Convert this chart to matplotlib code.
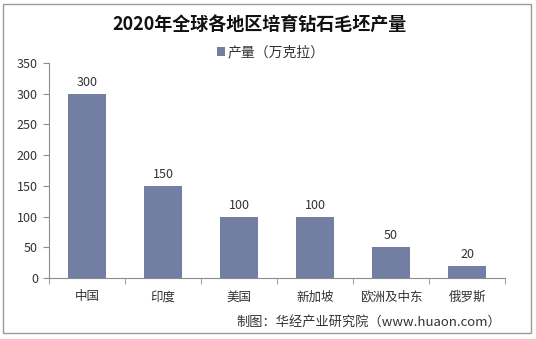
import matplotlib.pyplot as plt
from matplotlib.patches import Rectangle
import numpy as np

plt.rcParams['font.family'] = ['Noto Sans CJK SC', 'DejaVu Sans']

# 各地区培育钻石毛坯产量（万克拉）
regions = ['中国', '印度', '美国', '新加坡', '欧洲及中东', '俄罗斯']
output = [300, 150, 100, 100, 50, 20]
y_ticks = [0, 50, 100, 150, 200, 250, 300, 350]

bar_color = '#737ea3'
axis_color = '#8c8c8c'
text_color = '#333333'

fig = plt.figure(figsize=(5.36, 3.39), dpi=100)
fig.patch.set_facecolor('white')

# 外框
fig.patches.append(Rectangle((0.006, 0.018), 0.984, 0.97, transform=fig.transFigure,
                             fill=False, edgecolor='#999999', linewidth=1.0))

ax = fig.add_axes([0.0914, 0.180, 0.851, 0.634])
x = np.arange(len(regions))
bars = ax.bar(x, output, width=0.49, color=bar_color, label='产量（万克拉）')

for xi, v in zip(x, output):
    ax.text(xi, v + 8, str(v), ha='center', va='bottom', fontsize=9, color=text_color)

ax.set_xlim(-0.5, len(regions) - 0.5)
ax.set_ylim(0, 350)
ax.set_yticks(y_ticks)
ax.set_yticklabels([str(t) for t in y_ticks], fontsize=9, color=text_color)
ax.set_xticks(x)
ax.set_xticklabels(regions, fontsize=9, color=text_color)
ax.tick_params(axis='x', length=0, pad=9)
ax.tick_params(axis='y', length=4, color=axis_color, pad=4)

# 类别分隔刻度
ax.set_xticks(np.arange(-0.5, len(regions), 1.0), minor=True)
ax.tick_params(axis='x', which='minor', length=4, color=axis_color)

for side in ['top', 'right']:
    ax.spines[side].set_visible(False)
for side in ['left', 'bottom']:
    ax.spines[side].set_color(axis_color)
    ax.spines[side].set_linewidth(0.8)

fig.text(0.485, 0.925, '2020年全球各地区培育钻石毛坯产量', ha='center', va='center',
         fontsize=13, fontweight='bold', color='#111111')
fig.legend(handles=[bars], labels=['产量（万克拉）'], loc='center', bbox_to_anchor=(0.505, 0.845),
           frameon=False, fontsize=10, handlelength=0.55, handleheight=0.55,
           handletextpad=0.2, labelcolor=text_color)
fig.text(0.935, 0.05, '制图：华经产业研究院（www.huaon.com）', ha='right', va='center',
         fontsize=9.5, color=text_color)

fig.savefig('out.png', dpi=100)
